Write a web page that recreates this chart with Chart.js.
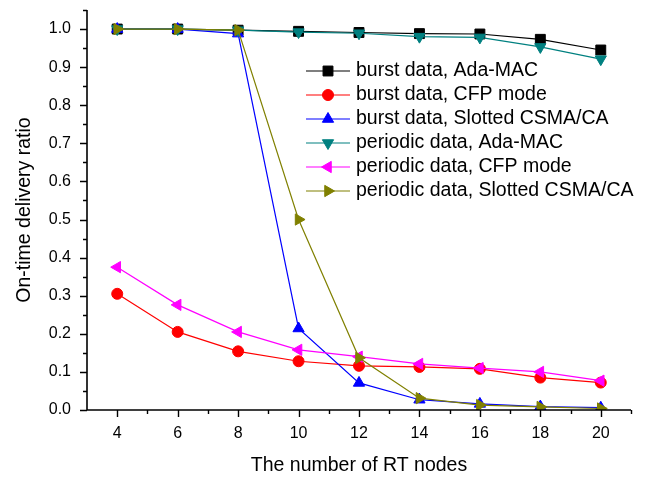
<!DOCTYPE html>
<html>
<head>
<meta charset="utf-8">
<title>On-time delivery ratio</title>
<script src="https://cdn.jsdelivr.net/npm/chart.js@4.4.0/dist/chart.umd.min.js"></script>
<style>
  body { margin: 0; background: #fff; }
  canvas { display: block; }
</style>
</head>
<body>
<canvas id="ratioChart" width="649" height="478"></canvas>
<script>
// number of RT nodes
var nodes = [4, 6, 8, 10, 12, 14, 16, 18, 20];

var burstAda = [1.0, 1.0, 0.997, 0.994, 0.991, 0.988, 0.987, 0.973, 0.945];
var burstCfp = [0.305, 0.205, 0.154, 0.128, 0.116, 0.113, 0.108, 0.085, 0.072];
var burstSlotted = [1.0, 1.0, 0.988, 0.214, 0.071, 0.027, 0.016, 0.009, 0.006];
var periodicAda = [1.0, 1.0, 0.997, 0.992, 0.989, 0.980, 0.978, 0.953, 0.921];
var periodicCfp = [0.375, 0.276, 0.205, 0.158, 0.140, 0.121, 0.110, 0.100, 0.077];
var periodicSlotted = [1.0, 1.0, 0.997, 0.500, 0.137, 0.031, 0.013, 0.008, 0.004];

var xTicks = [4, 6, 8, 10, 12, 14, 16, 18, 20];
var yTicks = [0, 0.1, 0.2, 0.3, 0.4, 0.5, 0.6, 0.7, 0.8, 0.9, 1.0];

var FONT = "'Liberation Sans', Arial, sans-serif";

function points(values) {
  return nodes.map(function (n, i) { return { x: n, y: values[i] }; });
}

function series(label, values, color, style, radius, rotation, order) {
  return {
    label: label,
    data: points(values),
    borderColor: color,
    backgroundColor: color,
    borderWidth: 1.2,
    pointStyle: style,
    pointRadius: radius,
    pointRotation: rotation,
    pointBorderWidth: 1,
    pointBorderColor: color,
    pointBackgroundColor: color,
    showLine: true,
    fill: false,
    tension: 0,
    order: order
  };
}

var datasets = [
  series("burst data, Ada-MAC", burstAda, "#000000", "rect", 7, 0, 5),
  series("burst data, CFP mode", burstCfp, "#ff0000", "circle", 5.5, 0, 4),
  series("burst data, Slotted CSMA/CA", burstSlotted, "#0000ff", "triangle", 6.5, 0, 3),
  series("periodic data, Ada-MAC", periodicAda, "#008080", "triangle", 6.5, 180, 2),
  series("periodic data, CFP mode", periodicCfp, "#ff00ff", "triangle", 6.5, -90, 1),
  series("periodic data, Slotted CSMA/CA", periodicSlotted, "#808000", "triangle", 6.5, 90, 0)
];

// axis lines with outward major and minor ticks
var axisTicks = {
  id: "axisTicks",
  afterDraw: function (chart) {
    var ctx = chart.ctx;
    var xs = chart.scales.x, ys = chart.scales.y;
    var left = chart.chartArea.left, bottom = chart.chartArea.bottom;
    ctx.save();
    ctx.strokeStyle = "#000";
    ctx.lineWidth = 1.6;
    ctx.beginPath();
    ctx.moveTo(left, ys.getPixelForValue(1.05));
    ctx.lineTo(left, bottom);
    ctx.lineTo(xs.getPixelForValue(21), bottom);
    ctx.stroke();

    ctx.lineWidth = 1.4;
    ctx.beginPath();
    for (var v = 4; v <= 21; v++) {
      var px = Math.round(xs.getPixelForValue(v)) + 0.5;
      var len = v % 2 === 0 ? 7 : 4;
      ctx.moveTo(px, bottom);
      ctx.lineTo(px, bottom + len);
    }
    for (var k = 0; k <= 21; k++) {
      var py = Math.round(ys.getPixelForValue(k * 0.05)) + 0.5;
      var l = k % 2 === 0 ? 7 : 4;
      ctx.moveTo(left, py);
      ctx.lineTo(left - l, py);
    }
    ctx.stroke();
    ctx.restore();
  }
};

// legend box inside the plot: line with marker and label
var insideLegend = {
  id: "insideLegend",
  afterDraw: function (chart) {
    var ctx = chart.ctx;
    ctx.save();
    ctx.font = "19.5px " + FONT;
    ctx.textBaseline = "middle";
    ctx.textAlign = "left";
    chart.data.datasets.forEach(function (ds, i) {
      var y = 71 + i * 24;
      ctx.strokeStyle = ds.borderColor;
      ctx.lineWidth = 1.2;
      ctx.beginPath();
      ctx.moveTo(306, y);
      ctx.lineTo(350, y);
      ctx.stroke();
      ctx.fillStyle = ds.pointBackgroundColor;
      ctx.strokeStyle = ds.pointBorderColor;
      ctx.lineWidth = 1;
      Chart.helpers.drawPoint(ctx, {
        pointStyle: ds.pointStyle,
        radius: ds.pointRadius,
        rotation: ds.pointRotation,
        borderWidth: 1
      }, 328, y);
      ctx.fillStyle = "#000";
      ctx.fillText(ds.label, 356, y);
    });
    ctx.restore();
  }
};

var ratioChart = new Chart(document.getElementById("ratioChart"), {
  type: "scatter",
  data: { datasets: datasets },
  options: {
    responsive: false,
    animation: false,
    layout: { padding: { top: 10, right: 18, left: 0, bottom: 0 } },
    plugins: {
      legend: { display: false },
      tooltip: { enabled: false }
    },
    scales: {
      x: {
        type: "linear",
        min: 3,
        max: 21,
        afterBuildTicks: function (scale) {
          scale.ticks = xTicks.map(function (v) { return { value: v }; });
        },
        afterFit: function (scale) {
          scale.height = 68;
          scale.paddingLeft = 0;
          scale.paddingRight = 0;
        },
        grid: { display: false, drawTicks: false },
        border: { display: false },
        ticks: {
          color: "#000",
          padding: 14,
          maxRotation: 0,
          font: { family: FONT, size: 16 },
          callback: function (v) { return String(v); }
        },
        title: {
          display: true,
          text: "The number of RT nodes",
          color: "#000",
          padding: { top: 0, bottom: 1 },
          font: { family: FONT, size: 19.5 }
        }
      },
      y: {
        type: "linear",
        min: 0,
        max: 1.05,
        afterBuildTicks: function (scale) {
          scale.ticks = yTicks.map(function (v) { return { value: v }; });
        },
        afterFit: function (scale) {
          scale.width = 87;
          scale.paddingTop = 0;
          scale.paddingBottom = 0;
        },
        grid: { display: false, drawTicks: false },
        border: { display: false },
        ticks: {
          color: "#000",
          padding: 16,
          font: { family: FONT, size: 16 },
          callback: function (v) { return v.toFixed(1); }
        },
        title: {
          display: true,
          text: "On-time delivery ratio",
          color: "#000",
          padding: { top: 13, bottom: 0 },
          font: { family: FONT, size: 19.5 }
        }
      }
    }
  },
  plugins: [axisTicks, insideLegend]
});
</script>
</body>
</html>
